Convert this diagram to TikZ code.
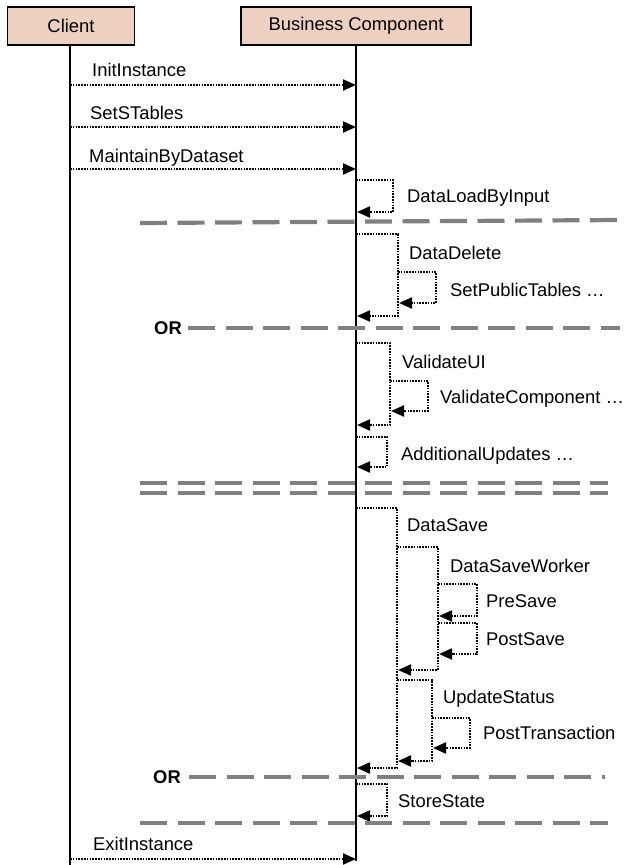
\documentclass[tikz,border=0pt]{standalone}
\usepackage{fontspec}
\setmainfont{Liberation Sans}
\usepackage{xcolor}
\usepackage{tikz}
\usetikzlibrary{arrows.meta, positioning, calc}
\definecolor{headfill}{RGB}{238, 208, 193}
\definecolor{sepgray}{RGB}{128, 128, 128}
\tikzset{
    header/.style={draw, line width=1.3pt, fill=headfill, minimum height=38pt, inner sep=0pt, font=\fontsize{18.4}{22}\selectfont},
    lbl/.style={anchor=base west, inner sep=0pt, font=\fontsize{18.4}{22}\selectfont},
    msg/.style={line width=2pt, dash pattern=on 1.6pt off 1.2pt, -{Triangle[length=13pt, width=11pt]}},
    sep/.style={sepgray, line width=4.2pt, dash pattern=on 27pt off 10.5pt},
    orlbl/.style={anchor=east, inner sep=0pt, font=\fontsize{18.4}{22}\selectfont\bfseries}
}

\begin{document}
\begin{tikzpicture}[x=1pt, y=-1pt, >=Stealth]
    \useasboundingbox (0,0) rectangle (635,865);
    % lifeline heads
    \node[header, minimum width=127pt] (client) at (71,26) {Client};
    \node[header, minimum width=230pt] (bc) at (356,26) {Business Component};
    \draw[line width=1.4pt] (client.south -| 70,0) -- (70,865);
    \draw[line width=1.4pt] (bc.south) -- (bc.south |- 0,861);

    % calls from the client
    \foreach \y/\ly/\lx/\txt [count=\i] in {85/76/92/InitInstance, 127/119/90/SetSTables, 169/162/89/MaintainByDataset, 859/850/93/ExitInstance} {
        \node[lbl] (m\i) at (\lx,\ly) {\txt};
        \draw[msg] (70,\y) -- (bc.south |- 0,\y);
    }

    % self calls: start x / right x / top / bottom / label x / label baseline / text
    \foreach \xa/\xb/\ya/\yb/\lx/\ly/\txt [count=\i] in {
        356/393/180/212/407/202/DataLoadByInput,
        356/398/234/316/409/259/DataDelete,
        398/436/272/303/450/296/SetPublicTables …,
        356/390/343/425/402/368/ValidateUI,
        390/428/381/411/440/403/ValidateComponent …,
        356/387/437/467/401/460/AdditionalUpdates …,
        356/397/508/768/407/531/DataSave,
        397/438/547/670/450/572/DataSaveWorker,
        438/477/584/616/486/607/PreSave,
        438/477/623/654/486/645/PostSave,
        397/432/680/761/443/703/UpdateStatus,
        432/470/718/748/483/739/PostTransaction,
        356/387/784/816/398/807/StoreState} {
        \draw[msg] (\xa,\ya) -- (\xb,\ya) -- (\xb,\yb) -- (\xa+1,\yb);
        \node[lbl] (s\i) at (\lx,\ly) {\txt};
    }

    % separators
    \draw[sep] (140,223) -- (620,220);
    \node[orlbl] (or1) at (182,328) {OR};
    \draw[sep] (or1.east) ++(6,0) -- (620,328);
    \draw[sep] (140,483) -- (608,483);
    \draw[sep] (140,493) -- (608,493);
    \node[orlbl] (or2) at (181,777) {OR};
    \draw[sep] (or2.east) ++(8,0) -- (605,777);
    \draw[sep] (140,823) -- (608,823);
\end{tikzpicture}
\end{document}
